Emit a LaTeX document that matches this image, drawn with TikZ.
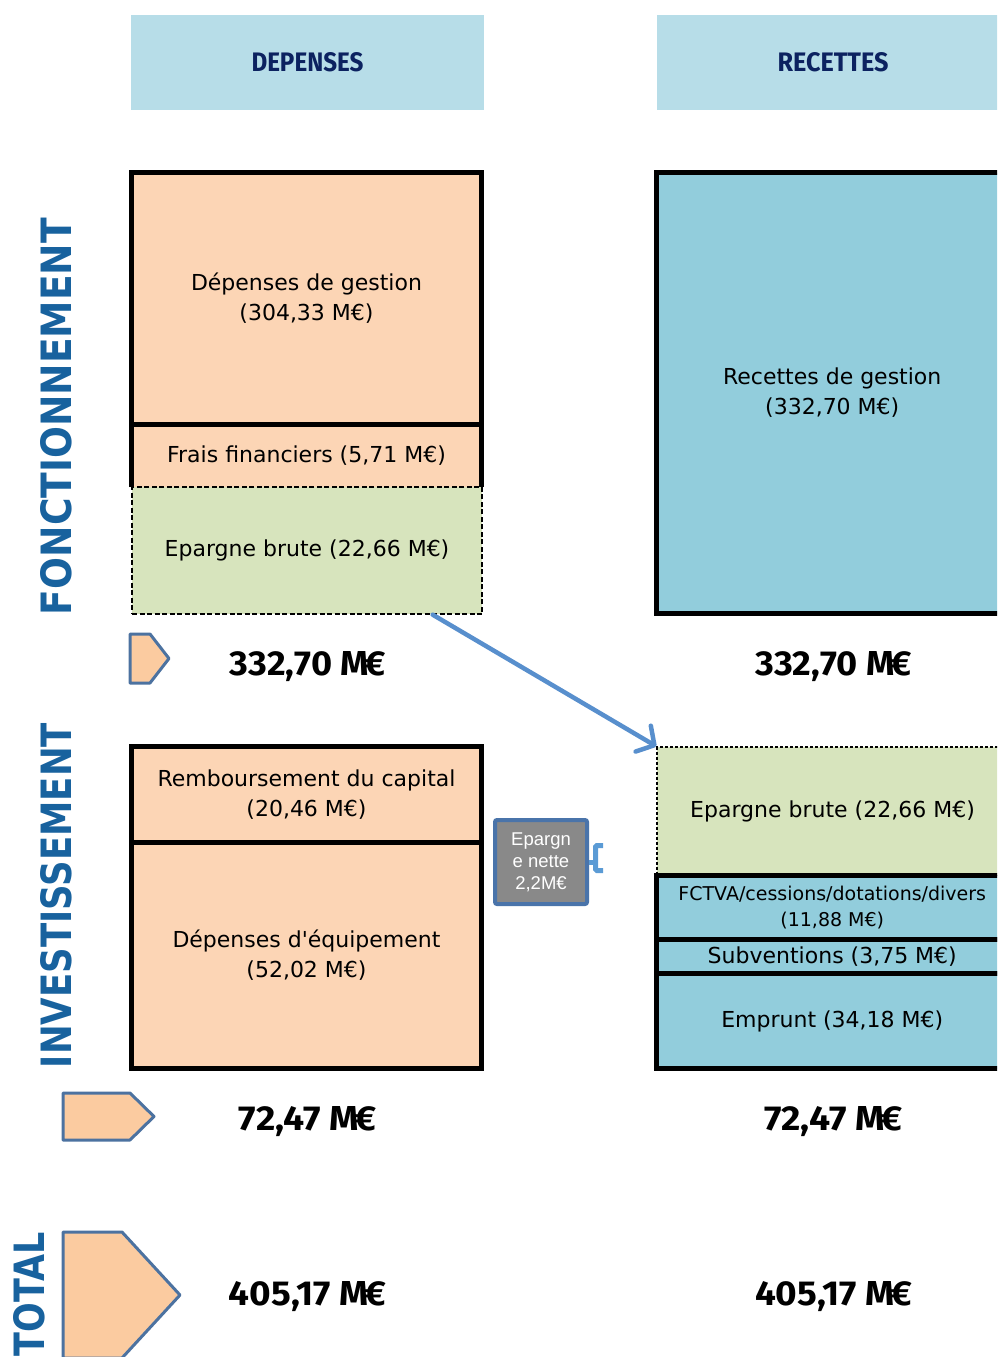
\documentclass[tikz,border=0pt]{standalone}
\usepackage{fontspec}
\usepackage{graphicx}
\setmainfont{DejaVu Sans}
\newfontfamily\amountfont{Fira Sans}
\newfontfamily\sidefont{DejaVu Sans}
\newfontfamily\notefont{Liberation Sans}
\usetikzlibrary{arrows.meta}

\definecolor{depfill}{RGB}{252,213,181}
\definecolor{savfill}{RGB}{215,228,189}
\definecolor{recfill}{RGB}{146,205,220}
\definecolor{headfill}{RGB}{183,221,232}
\definecolor{headtext}{RGB}{12,34,96}
\definecolor{sidetext}{RGB}{24,98,158}
\definecolor{tagfill}{RGB}{251,203,160}
\definecolor{tagline}{RGB}{76,114,160}
\definecolor{flow}{RGB}{88,143,205}
\definecolor{notefill}{RGB}{137,137,137}
\definecolor{noteline}{RGB}{74,116,170}
\definecolor{bracket}{RGB}{91,155,213}

\tikzset{
  block/.style={draw=black, line width=5pt, inner sep=0pt, align=center, font=\fontsize{22}{30}\selectfont},
  blocktext/.style={inner sep=0pt, align=center, font=\fontsize{22}{30}\selectfont},
  saving/.style={draw=black, line width=1.3pt, fill=savfill, inner sep=0pt, align=center, font=\fontsize{22}{30}\selectfont},
  header/.style={fill=headfill, minimum height=95pt, inner sep=0pt, text=headtext, font=\amountfont\bfseries},
  amount/.style={inner sep=0pt, anchor=base, font=\amountfont\bfseries},
  side/.style={inner sep=0pt, text=sidetext, font=\sidefont\bfseries, rotate=90},
  tag/.style={fill=tagfill, draw=tagline, line width=3pt, line join=round},
  note/.style={fill=notefill, draw=noteline, line width=4pt, rounded corners=2pt, minimum width=92pt, minimum height=84pt, inner sep=0pt, align=center, text=white, font=\notefont\fontsize{18.5}{22}\selectfont},
}

\begin{document}
\begin{tikzpicture}[x=1pt,y=1pt,yscale=-1,xscale=1]
        \useasboundingbox (0,0) rectangle (997,1357);
        \clip (0,0) rectangle (997,1357);

        %Shape: Rectangle [headers]
        \node [header, minimum width=353pt] (depH) at (307.5,62.5) {\resizebox{112pt}{19pt}{DEPENSES}};
        \node [header, minimum width=352pt] (recH) at (833,62.5) {\resizebox{111pt}{19pt}{RECETTES}};

        %Shape: Rectangle [fonctionnement, depenses]
        \node [blocktext, fill=depfill, minimum width=350pt, minimum height=62.5pt] (frais) at (306.5,455.75) {Frais financiers (5,71 M€)};
        \draw [line width=5pt] (frais.south west) -- (frais.north west) -- (frais.north east) -- (frais.south east) ;
        \node [block, fill=depfill, minimum width=350pt, minimum height=252pt] (gestion) at (306.5,298.5) {Dépenses de gestion\\(304,33 M€)};
        \node [saving, dash pattern=on 5pt off 2.5pt, minimum width=350pt, minimum height=127pt] (savL) at (307,550.5) {Epargne brute (22,66 M€)};

        %Shape: Rectangle [fonctionnement, recettes]
        \node [block, fill=recfill, minimum width=351.5pt, minimum height=441pt] (recette) at (832.25,393) {Recettes de gestion\\(332,70 M€)};

        %Shape: Rectangle [investissement, depenses]
        \node [block, fill=depfill, minimum width=350pt, minimum height=96pt] (rembours) at (306.5,794.5) {Remboursement du capital\\(20,46 M€)};
        \node [block, fill=depfill, minimum width=350pt, minimum height=226pt] (equip) at (306.5,955.5) {Dépenses d\textquotesingle équipement\\(52,02 M€)};

        %Shape: Rectangle [investissement, recettes]
        \node [saving, dash pattern=on 3pt off 2pt, minimum width=351pt, minimum height=128.5pt] (savR) at (832.5,811.25) {Epargne brute (22,66 M€)};
        \node [block, fill=recfill, minimum width=351.5pt, minimum height=64pt, font=\fontsize{19}{26}\selectfont] (fctva) at (832.25,907.5) {FCTVA/cessions/dotations/divers\\(11,88 M€)};
        \node [block, fill=recfill, minimum width=351.5pt, minimum height=34pt] (subv) at (832.25,956.5) {Subventions (3,75 M€)};
        \node [block, fill=recfill, minimum width=351.5pt, minimum height=95pt] (emprunt) at (832.25,1021) {Emprunt (34,18 M€)};

        %Shape: Rectangle [epargne nette]
        \node [note] (netsav) at (541,862) {Epargn\\e nette\\2,2M€};
        %Shape: Bracket
        \coordinate (braceT) at (603,845.5);
        \coordinate (braceB) at (603,870.5);
        \draw [draw=bracket, line width=5pt, rounded corners=1.5pt] (braceT) -- (595.5,845.5) -- (595.5,870.5) -- (braceB) ;
        \draw [draw=bracket, line width=5pt] (netsav.east) -- (595.5,862) ;

        %Straight Lines [epargne brute]
        \draw [draw=flow, line width=4.5pt, line cap=round, -{Straight Barb[length=13pt, width=30pt, round]}] ([xshift=-50pt]savL.south east) -- (savR.north west) ;

        %Shape: Polygon [tags]
        \draw [tag] (130,634) -- (150,634) -- (169,658.5) -- (150,683) -- (130,683) -- cycle ;
        \draw [tag] (63,1093) -- (130,1093) -- (154,1116.5) -- (130,1140) -- (63,1140) -- cycle ;
        \draw [tag] (63,1232) -- (122,1232) -- (180,1295) -- (122,1358) -- (63,1358) -- cycle ;

        % Text Node [side labels]
        \node [side] (fonct) at (56.5,416.5) {\resizebox{397pt}{31pt}{FONCTIONNEMENT}};
        \node [side] (invest) at (56,895.5) {\resizebox{345pt}{31pt}{INVESTISSEMENT}};
        \node [side] (total) at (29,1294) {\resizebox{124pt}{31pt}{TOTAL}};

        % Text Node [amounts]
        \node [amount] (fonctD) at (308,675) {\resizebox{156pt}{24pt}{332,70 M\kern-0.12em€}};
        \node [amount] (fonctR) at (833.5,675) {\resizebox{156pt}{24pt}{332,70 M\kern-0.12em€}};
        \node [amount] (investD) at (308,1130) {\resizebox{138pt}{24pt}{72,47 M\kern-0.12em€}};
        \node [amount] (investR) at (833.5,1130) {\resizebox{138pt}{24pt}{72,47 M\kern-0.12em€}};
        \node [amount] (totalD) at (307.5,1305) {\resizebox{157pt}{24pt}{405,17 M\kern-0.12em€}};
        \node [amount] (totalR) at (833.5,1305) {\resizebox{157pt}{24pt}{405,17 M\kern-0.12em€}};

\end{tikzpicture}
\end{document}
